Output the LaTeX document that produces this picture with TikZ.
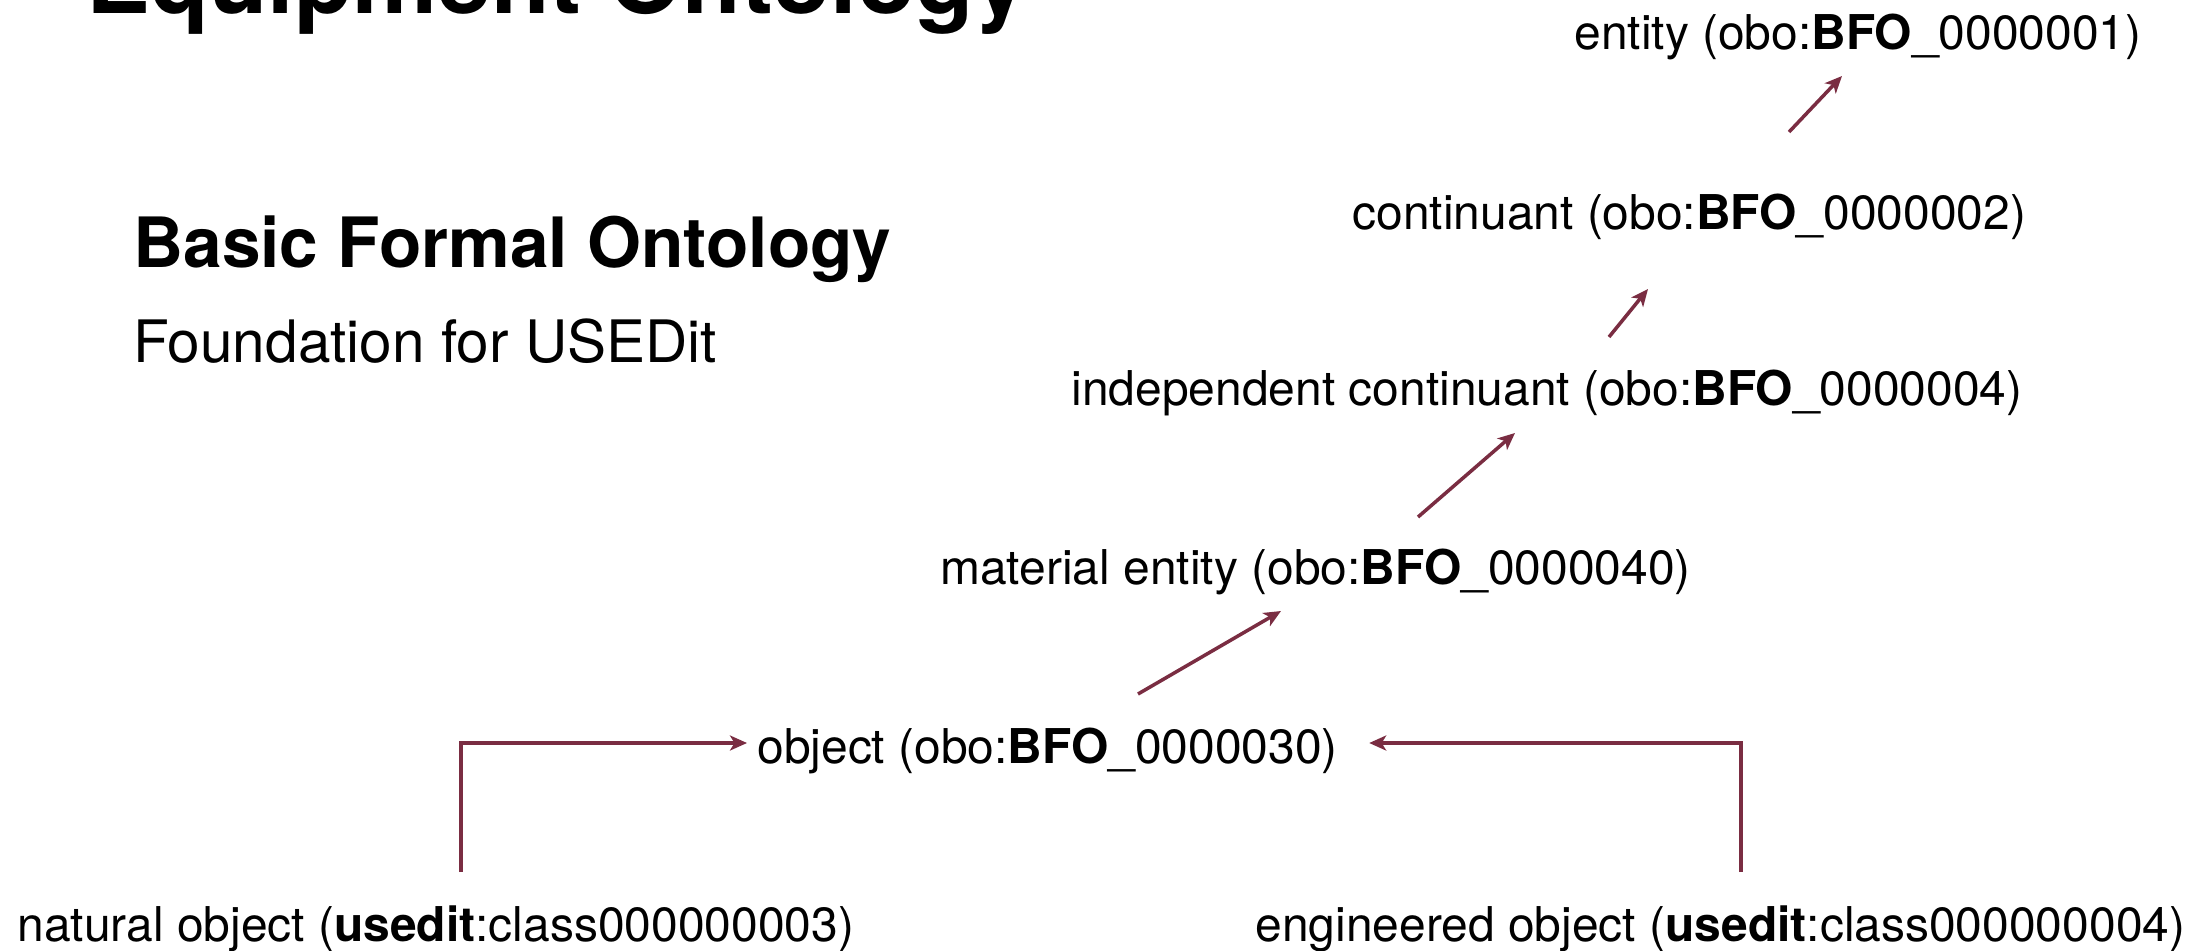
\documentclass[tikz,border=0pt]{standalone}
\usepackage{fontspec}
\setmainfont{TeX Gyre Heros}
\usepackage{tikz}
\usetikzlibrary{arrows.meta}
\definecolor{isared}{RGB}{122,45,66}
\newcommand{\obo}[1]{(obo:\textbf{BFO}\_#1)}
\newcommand{\ued}[1]{(\textbf{usedit}:class#1)}

\begin{document}
\begin{tikzpicture}[x=0.02cm,y=-0.02cm,
    cls/.style={anchor=base west,inner sep=0pt,font=\fontsize{27.3}{32}\selectfont},
    isa/.style={isared,line width=2pt,-{Stealth[length=0.34cm,width=0.3cm,inset=0.09cm]}}]
    \useasboundingbox (0,0) rectangle (2203,950);
    \clip (0,0) rectangle (2203,950);

    \node[anchor=base west,inner sep=0pt,font=\fontsize{54.5}{60}\selectfont\bfseries] (title) at (86,13) {Equipment Ontology};
    \node[anchor=base west,inner sep=0pt,font=\fontsize{39.5}{46}\selectfont\bfseries] (bfo) at (133,267) {Basic Formal Ontology};
    \node[anchor=base west,inner sep=0pt,font=\fontsize{33.3}{38}\selectfont] (found) at (133,362) {Foundation for USEDit};

    \node[cls] (ent) at (1574,49) {entity \obo{0000001}};
    \node[cls] (cont) at (1352,229) {continuant \obo{0000002}};
    \node[cls] (indep) at (1071,405) {independent continuant \obo{0000004}};
    \node[cls] (mat) at (940,584) {material entity \obo{0000040}};
    \node[cls] (obj) at (757,763) {object \obo{0000030}};
    \node[cls] (nat) at (17,941) {natural object \ued{000000003}};
    \node[cls] (eng) at (1255,941) {engineered object \ued{000000004}};

%    \draw[isa] (cont) -- (ent);
\draw[isa] ([shift={(437,-97)}]cont.base west) -- ([shift={(268,27)}]ent.base west);
\draw[isa] ([shift={(538,-68)}]indep.base west) -- ([shift={(296,60)}]cont.base west);
\draw[isa] ([shift={(478,-67)}]mat.base west) -- ([shift={(444,28)}]indep.base west);
\draw[isa] ([shift={(381,-69)}]obj.base west) -- ([shift={(341,27)}]mat.base west);

\draw[isa] ([shift={(444,-69)}]nat.base west) |- ([shift={(-10,-20)}]obj.base west);
\draw[isa] ([shift={(486,-69)}]eng.base west) |- ([shift={(31,-20)}]obj.base east);

\end{tikzpicture}
\end{document}
